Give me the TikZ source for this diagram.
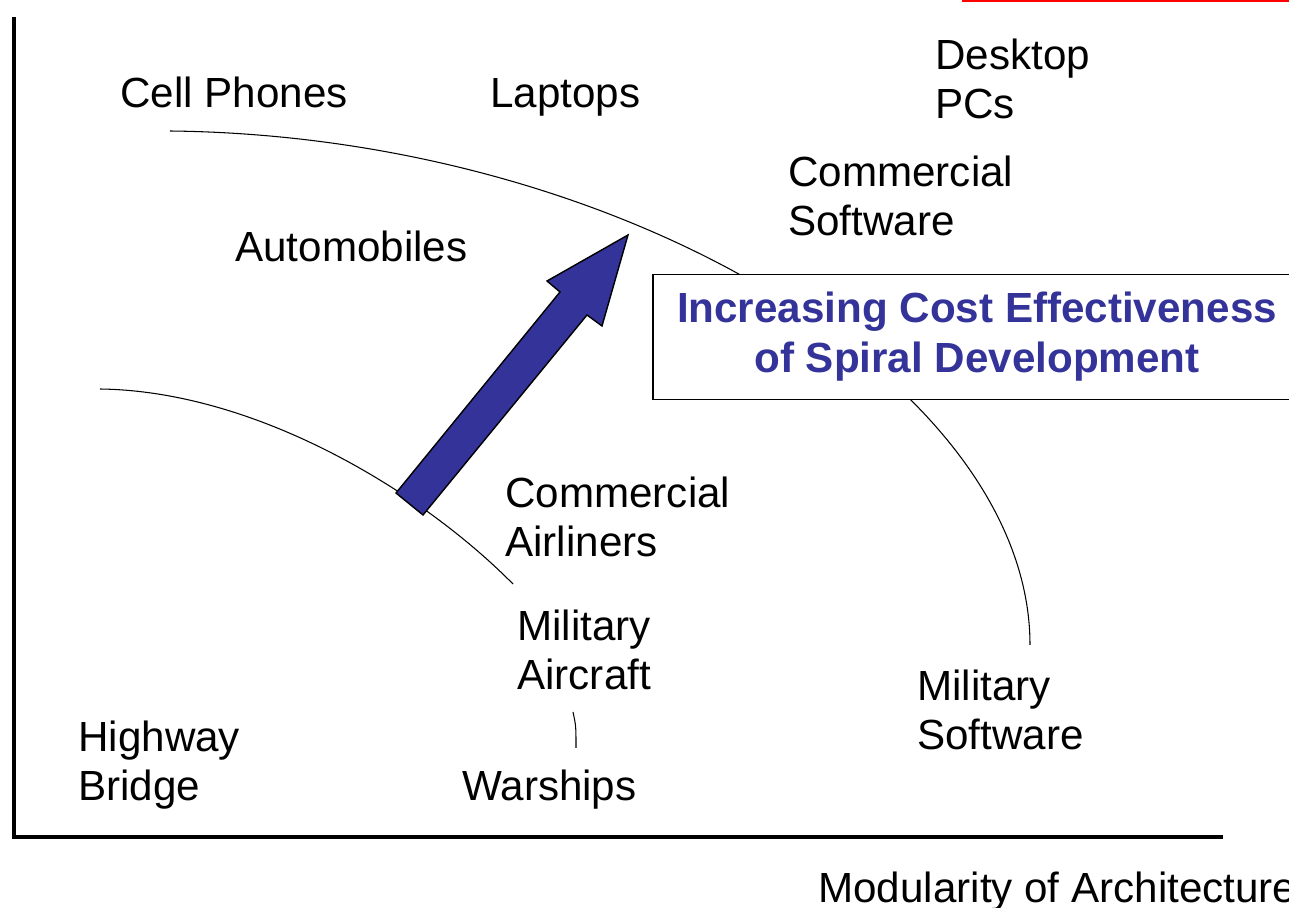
\documentclass[tikz,border=0pt]{standalone}
\usepackage{fontspec}
\setmainfont{Liberation Sans}
\definecolor{spiralblue}{RGB}{51,51,153}

\begin{document}
\begin{tikzpicture}[x=0.02cm,y=-0.02cm,
  lbl/.style={anchor=base west,inner sep=0pt,align=left,font=\fontsize{24}{28.4}\selectfont},
  trend/.style={line width=0.6pt},
  axis/.style={line width=2.3pt}]
\useasboundingbox (0,0) rectangle (1289,908);
\clip (0,0) rectangle (1289,908);

\draw[red,line width=1.2pt] (962,1) -- (1289,1);

\draw[axis] (14,17) -- (14,837) -- (1223,837);

\draw[trend] (170,131) .. controls (625,136) and (1030,385) .. (1030,645);
\draw[trend] (100,389) .. controls (255,391) and (420,490) .. (513,584);
\draw[trend] (573,712) .. controls (576,726) .. (576,748);

\node[lbl] (cell) at (120,108) {Cell Phones};
\node[lbl] (lap) at (490,108) {Laptops};
\node[lbl] (desk) at (935,119) {Desktop\\PCs};
\node[lbl] (csw) at (788,236) {Commercial\\Software};
\node[lbl] (auto) at (235,262) {Automobiles};
\node[lbl] (air) at (505,557) {Commercial\\Airliners};
\node[lbl] (mac) at (517,690) {Military\\Aircraft};
\node[lbl] (msw) at (917,750) {Military\\Software};
\node[lbl] (bridge) at (78,801) {Highway\\Bridge};
\node[lbl] (ship) at (462,801) {Warships};
\node[lbl] (xlab) at (818,902) {Modularity of Architecture};

\draw[fill=spiralblue,line width=0.8pt,line join=miter]
  (396,493) -- (560,292) -- (547,281) -- (628,235) -- (602,326) -- (587,315) -- (423,515) -- cycle;

\node[draw,fill=white,line width=0.8pt,minimum width=12.96cm,minimum height=2.5cm,
  align=center,text=spiralblue,font=\fontsize{24}{28.4}\bfseries] (spiral) at (977,337)
  {Increasing Cost Effectiveness\\of Spiral Development};
\end{tikzpicture}
\end{document}
